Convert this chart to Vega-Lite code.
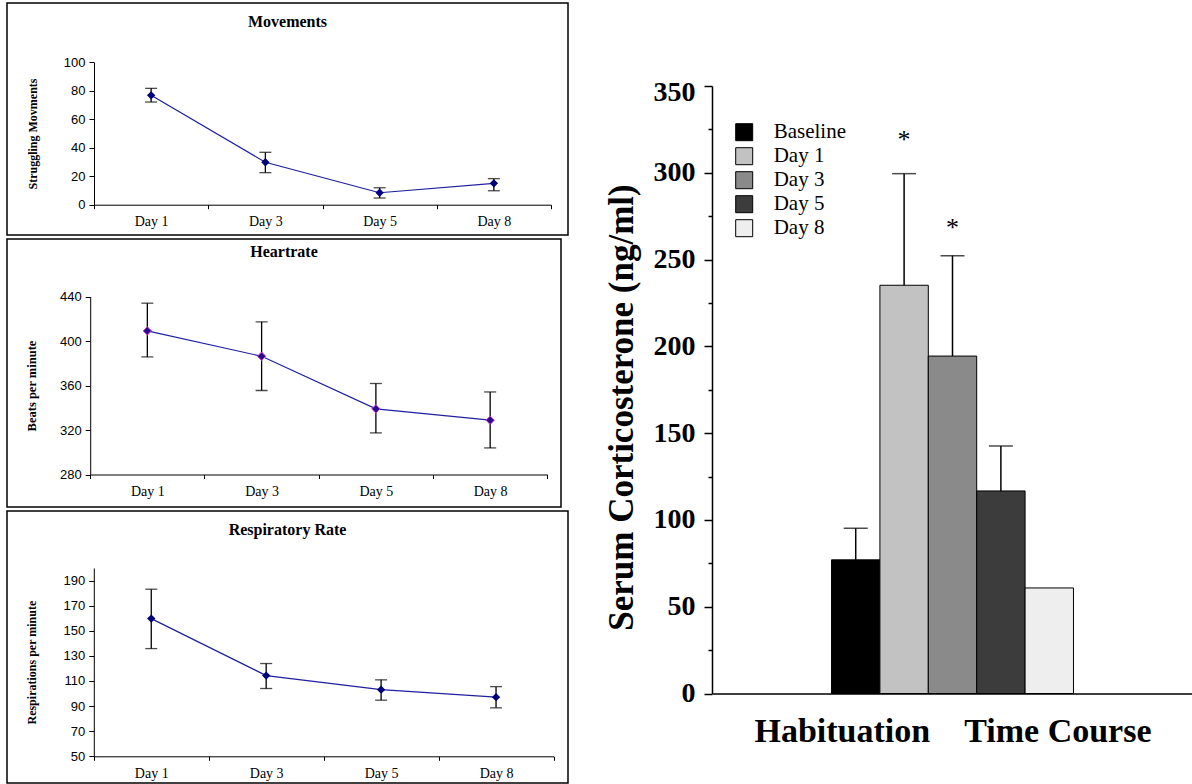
{
  "$schema": "https://vega.github.io/schema/vega-lite/v6.json",
  "padding": {"left": 6, "top": 2, "right": 0, "bottom": 0},
  "background": "white",
  "datasets": {
    "movements": [
      {"day": "Day 1", "mean": 76.8, "lo": 72.1, "hi": 81.7},
      {"day": "Day 3", "mean": 29.8, "lo": 22.5, "hi": 36.8},
      {"day": "Day 5", "mean": 8.4, "lo": 4.7, "hi": 11.9},
      {"day": "Day 8", "mean": 15.0, "lo": 9.8, "hi": 18.3}
    ],
    "heartrate": [
      {"day": "Day 1", "mean": 409.1, "lo": 385.7, "hi": 434.0},
      {"day": "Day 3", "mean": 386.3, "lo": 355.5, "hi": 417.2},
      {"day": "Day 5", "mean": 339.0, "lo": 317.4, "hi": 361.8},
      {"day": "Day 8", "mean": 328.8, "lo": 303.9, "hi": 354.2}
    ],
    "resp": [
      {"day": "Day 1", "mean": 159.7, "lo": 135.8, "hi": 183.1},
      {"day": "Day 3", "mean": 114.3, "lo": 104.0, "hi": 123.9},
      {"day": "Day 5", "mean": 103.1, "lo": 94.7, "hi": 110.9},
      {"day": "Day 8", "mean": 97.1, "lo": 88.6, "hi": 105.5}
    ],
    "cort": [
      {"series": "Baseline", "value": 77.0, "err": 95.2, "sig": null},
      {"series": "Day 1", "value": 235.2, "err": 299.5, "sig": 319},
      {"series": "Day 3", "value": 194.4, "err": 252.2, "sig": 268},
      {"series": "Day 5", "value": 116.7, "err": 142.6, "sig": null},
      {"series": "Day 8", "value": 60.8, "err": null, "sig": null}
    ]
  },
  "spacing": 35,
  "hconcat": [
    {
      "spacing": 2,
      "vconcat": [
        {
          "width": 561, "height": 232,
          "view": {"stroke": "black", "strokeWidth": 1.5},
          "title": {"text": "Movements", "frame": "group", "anchor": "middle", "offset": -35.4, "baseline": "middle", "font": "Liberation Serif", "fontSize": 16, "fontWeight": "bold", "color": "black"},
          "data": {"name": "movements"},
          "encoding": {
            "x": {"field": "day", "type": "ordinal", "sort": ["Day 1", "Day 3", "Day 5", "Day 8"],
              "scale": {"type": "band", "range": [87, 544], "paddingInner": 0, "paddingOuter": 0},
              "axis": {"title": null, "offset": -30.3, "tickBand": "extent", "tickSize": 4, "labelAngle": 0, "labelFont": "Liberation Serif", "labelFontSize": 14, "labelBaseline": "middle", "labelPadding": 13}}
          },
          "layer": [
            {"mark": {"type": "rule", "color": "black", "strokeWidth": 1.3},
             "encoding": {"y": {"field": "lo", "type": "quantitative", "title": "Struggling Movments",
               "scale": {"domain": [0, 100], "range": [201.7, 59.3], "nice": false, "zero": false},
               "axis": {"offset": -87, "values": [0, 20, 40, 60, 80, 100], "tickCount": 6, "tickSize": 5, "labelPadding": 4, "labelFont": "Liberation Sans", "labelFontSize": 13, "labelOverlap": false, "titleFont": "Liberation Serif", "titleFontSize": 12, "titleFontWeight": "bold", "titlePadding": 24}},
               "y2": {"field": "hi", "title": "Struggling Movments"}}},
            {"mark": {"type": "tick", "color": "black", "size": 12, "thickness": 1.3},
             "encoding": {"y": {"field": "lo", "type": "quantitative", "title": "Struggling Movments"}}},
            {"mark": {"type": "tick", "color": "black", "size": 12, "thickness": 1.3},
             "encoding": {"y": {"field": "hi", "type": "quantitative", "title": "Struggling Movments"}}},
            {"mark": {"type": "line", "color": "#1f1f9f", "strokeWidth": 1.2},
             "encoding": {"y": {"field": "mean", "type": "quantitative", "title": "Struggling Movments"}}},
            {"mark": {"type": "point", "shape": "diamond", "filled": true, "size": 70, "color": "#00007a", "opacity": 1},
             "encoding": {"y": {"field": "mean", "type": "quantitative", "title": "Struggling Movments"}}}
          ]
        },
        {
          "width": 554, "height": 268,
          "view": {"stroke": "black", "strokeWidth": 1.5},
          "title": {"text": "Heartrate", "frame": "group", "anchor": "middle", "offset": -29, "baseline": "middle", "font": "Liberation Serif", "fontSize": 16, "fontWeight": "bold", "color": "black"},
          "data": {"name": "heartrate"},
          "encoding": {
            "x": {"field": "day", "type": "ordinal", "sort": ["Day 1", "Day 3", "Day 5", "Day 8"],
              "scale": {"type": "band", "range": [83.2, 540.3], "paddingInner": 0, "paddingOuter": 0},
              "axis": {"title": null, "offset": -32.5, "tickBand": "extent", "tickSize": 4, "labelAngle": 0, "labelFont": "Liberation Serif", "labelFontSize": 14, "labelBaseline": "middle", "labelPadding": 13}}
          },
          "layer": [
            {"mark": {"type": "rule", "color": "black", "strokeWidth": 1.3},
             "encoding": {"y": {"field": "lo", "type": "quantitative", "title": "Beats per minute",
               "scale": {"domain": [280, 440], "range": [235.5, 57.5], "nice": false, "zero": false},
               "axis": {"offset": -83.2, "values": [280, 320, 360, 400, 440], "tickCount": 5, "tickSize": 5, "labelPadding": 4, "labelFont": "Liberation Sans", "labelFontSize": 13, "labelOverlap": false, "titleFont": "Liberation Serif", "titleFontSize": 12.5, "titleFontWeight": "bold", "titlePadding": 21}},
               "y2": {"field": "hi", "title": "Beats per minute"}}},
            {"mark": {"type": "tick", "color": "black", "size": 12, "thickness": 1.3},
             "encoding": {"y": {"field": "lo", "type": "quantitative", "title": "Beats per minute"}}},
            {"mark": {"type": "tick", "color": "black", "size": 12, "thickness": 1.3},
             "encoding": {"y": {"field": "hi", "type": "quantitative", "title": "Beats per minute"}}},
            {"mark": {"type": "line", "color": "#1f1f9f", "strokeWidth": 1.2},
             "encoding": {"y": {"field": "mean", "type": "quantitative", "title": "Beats per minute"}}},
            {"mark": {"type": "point", "shape": "diamond", "filled": true, "size": 70, "fill": "#2a0a8a", "stroke": "#cc44cc", "strokeWidth": 1, "opacity": 1},
             "encoding": {"y": {"field": "mean", "type": "quantitative", "title": "Beats per minute"}}}
          ]
        },
        {
          "width": 561, "height": 272,
          "view": {"stroke": "black", "strokeWidth": 1.5},
          "title": {"text": "Respiratory Rate", "frame": "group", "anchor": "middle", "offset": -35.4, "baseline": "middle", "font": "Liberation Serif", "fontSize": 16, "fontWeight": "bold", "color": "black"},
          "data": {"name": "resp"},
          "encoding": {
            "x": {"field": "day", "type": "ordinal", "sort": ["Day 1", "Day 3", "Day 5", "Day 8"],
              "scale": {"type": "band", "range": [86.8, 546.5], "paddingInner": 0, "paddingOuter": 0},
              "axis": {"title": null, "offset": -26.7, "tickBand": "extent", "tickSize": 4, "labelAngle": 0, "labelFont": "Liberation Serif", "labelFontSize": 14, "labelBaseline": "middle", "labelPadding": 13}}
          },
          "layer": [
            {"mark": {"type": "rule", "color": "black", "strokeWidth": 1.3},
             "encoding": {"y": {"field": "lo", "type": "quantitative", "title": "Respirations per minute",
               "scale": {"domain": [50, 200], "range": [245.3, 57], "nice": false, "zero": false},
               "axis": {"offset": -86.8, "values": [50, 70, 90, 110, 130, 150, 170, 190], "tickCount": 8, "tickSize": 5, "labelPadding": 4, "labelFont": "Liberation Sans", "labelFontSize": 13, "labelOverlap": false, "titleFont": "Liberation Serif", "titleFontSize": 12, "titleFontWeight": "bold", "titlePadding": 25}},
               "y2": {"field": "hi", "title": "Respirations per minute"}}},
            {"mark": {"type": "tick", "color": "black", "size": 12, "thickness": 1.3},
             "encoding": {"y": {"field": "lo", "type": "quantitative", "title": "Respirations per minute"}}},
            {"mark": {"type": "tick", "color": "black", "size": 12, "thickness": 1.3},
             "encoding": {"y": {"field": "hi", "type": "quantitative", "title": "Respirations per minute"}}},
            {"mark": {"type": "line", "color": "#1f1f9f", "strokeWidth": 1.2},
             "encoding": {"y": {"field": "mean", "type": "quantitative", "title": "Respirations per minute"}}},
            {"mark": {"type": "point", "shape": "diamond", "filled": true, "size": 70, "color": "#00007a", "opacity": 1},
             "encoding": {"y": {"field": "mean", "type": "quantitative", "title": "Respirations per minute"}}}
          ]
        }
      ]
    },
    {
      "width": 481, "height": 690.5,
      "data": {"name": "cort"},
      "encoding": {
        "x": {"field": "series", "type": "nominal",
          "scale": {"domain": ["pad a", "pad b", "Baseline", "Day 1", "Day 3", "Day 5", "Day 8", "pad c", "pad d"], "paddingInner": 0, "paddingOuter": 0.47},
          "axis": {"labels": false, "ticks": false, "domainWidth": 1.5, "title": "Habituation\u00a0\u00a0\u00a0\u00a0Time Course", "titleFont": "Liberation Serif", "titleFontSize": 34, "titleFontWeight": "bold", "titlePadding": 21}}
      },
      "layer": [
        {"mark": {"type": "bar", "stroke": "black", "strokeWidth": 1},
         "encoding": {
           "y": {"field": "value", "type": "quantitative", "title": "Serum Corticosterone (ng/ml)",
             "scale": {"domain": [0, 350], "range": [690.5, 83], "nice": false},
             "axis": {"values": [0, 25, 50, 75, 100, 125, 150, 175, 200, 225, 250, 275, 300, 325, 350], "tickCount": 15,
               "labelExpr": "datum.value % 50 === 0 ? datum.label : ''",
               "tickSize": {"condition": {"test": "datum.value % 50 === 0", "value": 8}, "value": 4},
               "labelOffset": {"condition": {"test": "datum.value === 350", "value": 6}, "value": 0},
               "domainWidth": 1.5, "tickWidth": 1.5, "labelOverlap": false,
               "labelFont": "Liberation Serif", "labelFontSize": 28, "labelFontWeight": "bold", "labelPadding": 9,
               "titleFont": "Liberation Serif", "titleFontSize": 35, "titleFontWeight": "bold", "titlePadding": 14, "titleY": 404}},
           "fill": {"field": "series", "type": "nominal",
             "scale": {"domain": ["Baseline", "Day 1", "Day 3", "Day 5", "Day 8"], "range": ["#000000", "#c2c2c2", "#8a8a8a", "#3c3c3c", "#eeeeee"]},
             "legend": {"orient": "none", "legendX": 726.7, "legendY": 118.7, "title": null, "symbolType": "square", "symbolSize": 289, "symbolStrokeColor": "black", "symbolStrokeWidth": 1, "symbolOpacity": 1, "labelFont": "Liberation Serif", "labelFontSize": 21, "labelColor": "black", "labelOffset": 19, "rowPadding": 2, "padding": 0}}
         }},
        {"transform": [{"filter": "datum.err != null"}],
         "mark": {"type": "rule", "color": "black", "strokeWidth": 1.5},
         "encoding": {"y": {"field": "value", "type": "quantitative", "title": "Serum Corticosterone (ng/ml)"}, "y2": {"field": "err", "title": "Serum Corticosterone (ng/ml)"}}},
        {"transform": [{"filter": "datum.err != null"}],
         "mark": {"type": "tick", "color": "black", "size": 24, "thickness": 1.5},
         "encoding": {"y": {"field": "err", "type": "quantitative", "title": "Serum Corticosterone (ng/ml)"}}},
        {"transform": [{"filter": "datum.sig != null"}],
         "mark": {"type": "text", "text": "*", "font": "Liberation Serif", "fontSize": 26, "baseline": "middle", "color": "black"},
         "encoding": {"y": {"field": "sig", "type": "quantitative", "title": "Serum Corticosterone (ng/ml)"}}}
      ]
    }
  ],
  "config": {
    "view": {"stroke": null},
    "axis": {"grid": false, "domainColor": "black", "tickColor": "black", "labelColor": "black", "titleColor": "black", "labelOverlap": false},
    "title": {"color": "black"}
  }
}
